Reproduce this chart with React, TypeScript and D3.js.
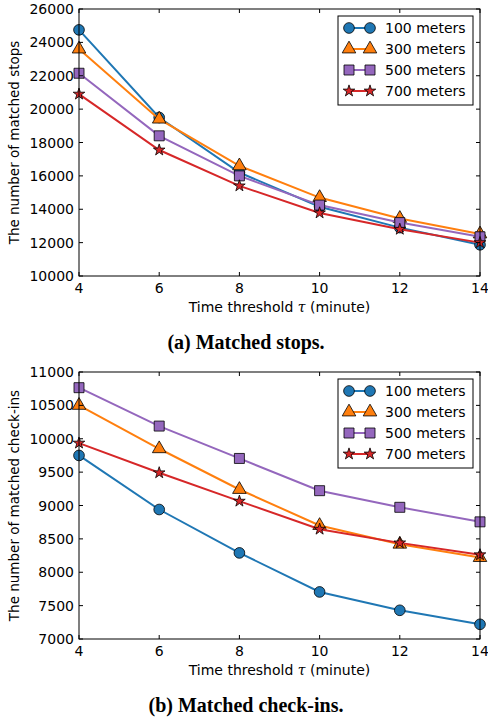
import React, { useEffect, useRef } from 'react';
import * as d3 from 'd3';

// x values (time threshold in minutes)
const thresholds = [4, 6, 8, 10, 12, 14];
const seriesNames = ['100 meters', '300 meters', '500 meters', '700 meters'];

// (a) matched stops
const stops100 = [24750, 19500, 16200, 14150, 12900, 11870];
const stops300 = [23600, 19400, 16600, 14700, 13450, 12520];
const stops500 = [22150, 18400, 16000, 14250, 13200, 12350];
const stops700 = [20900, 17550, 15400, 13780, 12800, 12000];
const stopTicks = [10000, 12000, 14000, 16000, 18000, 20000, 22000, 24000, 26000];

// (b) matched check-ins
const checkins100 = [9750, 8940, 8290, 7705, 7430, 7220];
const checkins300 = [10500, 9850, 9240, 8700, 8420, 8220];
const checkins500 = [10765, 10190, 9705, 9222, 8973, 8755];
const checkins700 = [9935, 9490, 9065, 8645, 8440, 8262];
const checkinTicks = [7000, 7500, 8000, 8500, 9000, 9500, 10000, 10500, 11000];

const colors = ['#1f77b4', '#ff7f0e', '#9467bd', '#d62728'];
const symbols = [d3.symbolCircle, d3.symbolTriangle, d3.symbolSquare, d3.symbolStar];
const symbolSizes = [90, 80, 100, 42];

const FONT = 'DejaVu Sans, sans-serif';

export default function App() {
    const ref = useRef(null);

    useEffect(() => {
        const svg = d3.select(ref.current);
        svg.selectAll('*').remove();

        const drawPanel = (top, series, ticks, yLabel, caption) => {
            const left = 79, right = 480;
            const plotTop = top, plotBottom = top + 267;
            const x = d3.scaleLinear().domain([4, 14]).range([left, right]);
            const y = d3.scaleLinear().domain([ticks[0], ticks[ticks.length - 1]]).range([plotBottom, plotTop]);
            const g = svg.append('g');

            // series lines and markers
            series.forEach((vals, i) => {
                const line = d3.line().x((d, j) => x(thresholds[j])).y(d => y(d));
                g.append('path')
                    .attr('d', line(vals))
                    .attr('fill', 'none')
                    .attr('stroke', colors[i])
                    .attr('stroke-width', 2);
                g.selectAll('path.m' + i)
                    .data(vals)
                    .enter()
                    .append('path')
                    .attr('class', 'm' + i)
                    .attr('d', d3.symbol().type(symbols[i]).size(symbolSizes[i]))
                    .attr('transform', (d, j) => `translate(${x(thresholds[j])},${y(d)})`)
                    .attr('fill', colors[i])
                    .attr('stroke', 'black')
                    .attr('stroke-width', 0.8);
            });

            // frame
            g.append('rect')
                .attr('x', left).attr('y', plotTop)
                .attr('width', right - left).attr('height', plotBottom - plotTop)
                .attr('fill', 'none').attr('stroke', 'black').attr('stroke-width', 1);

            // inward ticks on all sides
            const tl = 4;
            thresholds.forEach(t => {
                g.append('line').attr('x1', x(t)).attr('x2', x(t)).attr('y1', plotBottom).attr('y2', plotBottom - tl).attr('stroke', 'black');
                g.append('line').attr('x1', x(t)).attr('x2', x(t)).attr('y1', plotTop).attr('y2', plotTop + tl).attr('stroke', 'black');
                g.append('text')
                    .attr('x', x(t)).attr('y', plotBottom + 17)
                    .attr('text-anchor', 'middle')
                    .style('font-family', FONT).style('font-size', '14px')
                    .text(t);
            });
            ticks.forEach(t => {
                g.append('line').attr('x1', left).attr('x2', left + tl).attr('y1', y(t)).attr('y2', y(t)).attr('stroke', 'black');
                g.append('line').attr('x1', right).attr('x2', right - tl).attr('y1', y(t)).attr('y2', y(t)).attr('stroke', 'black');
                g.append('text')
                    .attr('x', left - 5).attr('y', y(t) + 5)
                    .attr('text-anchor', 'end')
                    .style('font-family', FONT).style('font-size', '14px')
                    .text(t);
            });

            // axis labels
            const xl = g.append('text')
                .attr('x', (left + right) / 2).attr('y', plotBottom + 36)
                .attr('text-anchor', 'middle')
                .style('font-family', FONT).style('font-size', '14px');
            xl.append('tspan').text('Time threshold ');
            xl.append('tspan').style('font-family', 'DejaVu Serif, serif').style('font-style', 'italic').text('τ');
            xl.append('tspan').text(' (minute)');

            g.append('text')
                .attr('transform', `translate(19,${(plotTop + plotBottom) / 2}) rotate(-90)`)
                .attr('text-anchor', 'middle')
                .style('font-family', FONT).style('font-size', '13.5px')
                .text(yLabel);

            // legend
            const lx = 338, ly = plotTop + 7;
            g.append('rect')
                .attr('x', lx).attr('y', ly).attr('width', 135).attr('height', 89)
                .attr('fill', 'white').attr('stroke', 'black').attr('stroke-width', 1);
            seriesNames.forEach((name, i) => {
                const cy = ly + 12 + i * 21;
                g.append('line')
                    .attr('x1', lx + 11).attr('x2', lx + 32).attr('y1', cy).attr('y2', cy)
                    .attr('stroke', colors[i]).attr('stroke-width', 2);
                [lx + 11, lx + 32].forEach(px => {
                    g.append('path')
                        .attr('d', d3.symbol().type(symbols[i]).size(symbolSizes[i]))
                        .attr('transform', `translate(${px},${cy})`)
                        .attr('fill', colors[i]).attr('stroke', 'black').attr('stroke-width', 0.8);
                });
                g.append('text')
                    .attr('x', lx + 47).attr('y', cy + 5)
                    .style('font-family', FONT).style('font-size', '14px')
                    .text(name);
            });

            // caption
            g.append('text')
                .attr('x', 246).attr('y', plotBottom + 73)
                .attr('text-anchor', 'middle')
                .style('font-family', 'Liberation Serif, serif').style('font-weight', 'bold').style('font-size', '20px')
                .text(caption);
        };

        drawPanel(9, [stops100, stops300, stops500, stops700], stopTicks,
            'The number of matched stops', '(a) Matched stops.');
        drawPanel(372, [checkins100, checkins300, checkins500, checkins700], checkinTicks,
            'The number of matched check-ins', '(b) Matched check-ins.');
    }, []);

    return (
        <svg ref={ref} width={488} height={721}
            style={{ position: 'absolute', left: 0, top: 0, background: 'white' }} />
    );
}
